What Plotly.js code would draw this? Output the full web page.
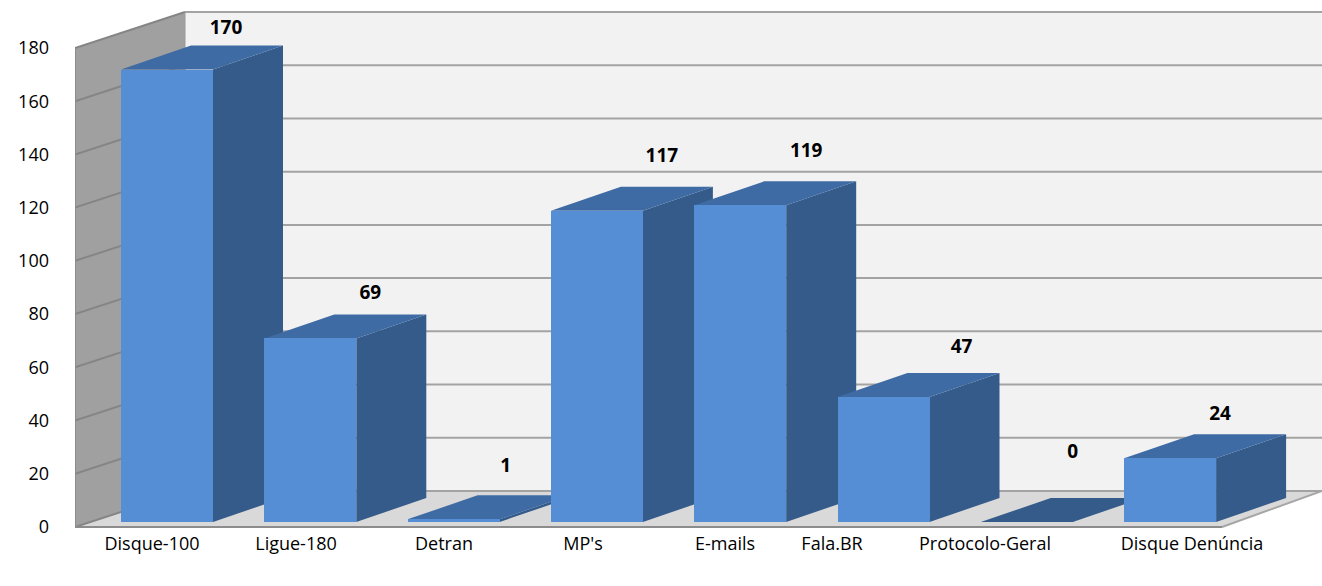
<!DOCTYPE html>
<html><head><meta charset="utf-8">
<script src="https://cdn.plot.ly/plotly-3.0.1.min.js"></script>
<style>html,body{margin:0;padding:0;background:#fff;overflow:hidden}#c{width:1322px;height:586px}</style>
</head><body><div id="c"></div>
<script>
const categories = ["Disque-100","Ligue-180","Detran","MP's","E-mails","Fala.BR","Protocolo-Geral","Disque Denúncia"];
const values = [170,69,1,117,119,47,0,24];
const yTicks = [0,20,40,60,80,100,120,140,160,180];

// Geometry of the drawing (pixels of the 1322x586 picture, turned into axis units below)
const W=1322,H=586,L=75,FLOOR=528,Y0=527,Y180=48;
const PPU=(Y0-Y180)/180, SLOT=143.3, X0=167, BARW=92;
const sx=p=>(p-X0)/SLOT, dy=p=>p/PPU;
const WALLX=sx(185), WALLDY=dy(36), FRONTR=sx(1222), BACKR=sx(W), LEFT=sx(L);
const DEPTHX=70/SLOT, DEPTHY=dy(24), BASE=dy(5), HALF=BARW/SLOT/2;
const labelPx=[152,296,444,583,725,832,985,1192];
const labelDx=[59,60,52,65,66,78,46,50];
const labelDy=[40,44,52,53,53,49,69,43];

const poly=(pts,fill,extra)=>Object.assign({type:'path',xref:'x',yref:'y',layer:'below',
  path:'M'+pts.map(p=>p[0]+','+p[1]).join(' L')+' Z',fillcolor:fill,line:{width:0}},extra||{});
const seg=(x1,y1,x2,y2,c,w)=>({type:'line',xref:'x',yref:'y',layer:'below',x0:x1,y0:y1,x1:x2,y1:y2,line:{color:c,width:w}});

const shapes=[];
shapes.push(poly([[WALLX,WALLDY],[BACKR,WALLDY],[BACKR,180+WALLDY],[WALLX,180+WALLDY]],'#f2f2f2'));
shapes.push(poly([[LEFT,0],[WALLX,WALLDY],[WALLX,180+WALLDY],[LEFT,180]],'#a0a0a0'));
shapes.push(poly([[LEFT,0],[FRONTR,0],[BACKR,WALLDY],[WALLX,WALLDY]],'#d9d9d9'));
yTicks.forEach(t=>{
  shapes.push(seg(WALLX,t+WALLDY,BACKR,t+WALLDY,'#a3a3a3',2));
  shapes.push(seg(LEFT,t,WALLX,t+WALLDY,'#858585',2));
});
shapes.push(seg(LEFT,0,LEFT,180,'#8c8c8c',2));
shapes.push(seg(WALLX,WALLDY,WALLX,180+WALLDY,'#9a9a9a',1));
shapes.push(seg(LEFT,0,FRONTR,0,'#8c8c8c',2));
shapes.push(seg(FRONTR,0,BACKR,WALLDY,'#a6a6a6',2));
values.forEach((v,i)=>{
  const l=i-HALF,r=i+HALF,b=BASE,t=BASE+v;
  shapes.push(poly([[r,b],[r+DEPTHX,b+DEPTHY],[r+DEPTHX,t+DEPTHY],[r,t]],'#355b8a'));
  shapes.push(poly([[l,t],[r,t],[r+DEPTHX,t+DEPTHY],[l+DEPTHX,t+DEPTHY]],v===0?'#355b8a':'#3f6ba4'));
});

const bars={type:'bar',x:categories.map((c,i)=>i),y:values,base:values.map(()=>BASE),width:BARW/SLOT,
  marker:{color:'#558ed5',line:{width:0}},text:categories,textposition:'none',hoverinfo:'text+y',showlegend:false};
const labels={type:'scatter',mode:'text',x:values.map((v,i)=>i+sx(X0+labelDx[i])),
  y:values.map((v,i)=>BASE+v+dy(labelDy[i])),text:values.map(String),textposition:'middle center',
  textfont:{family:'"Open Sans",sans-serif',size:19,color:'#000',weight:700},hoverinfo:'skip',showlegend:false,cliponaxis:false};

Plotly.newPlot('c',[bars,labels],{
  width:W,height:H,showlegend:false,paper_bgcolor:'#fff',plot_bgcolor:'rgba(0,0,0,0)',
  margin:{l:L,r:0,t:0,b:H-FLOOR,pad:0},
  font:{family:'"Open Sans",sans-serif',size:18,color:'#000'},
  bargap:0,shapes:shapes,
  xaxis:{type:'linear',range:[LEFT,BACKR],tickmode:'array',tickvals:labelPx.map(sx),ticktext:categories,
    ticks:'',showgrid:false,zeroline:false,showline:false,ticklabelstandoff:3,tickangle:0,tickfont:{size:18}},
  yaxis:{range:[(Y0-FLOOR)/PPU,Y0/PPU],tickmode:'array',tickvals:yTicks,ticks:'',showgrid:false,zeroline:false,showline:false,
    ticklabelstandoff:25,tickfont:{size:18}}
},{displayModeBar:false,staticPlot:true});
</script></body></html>
